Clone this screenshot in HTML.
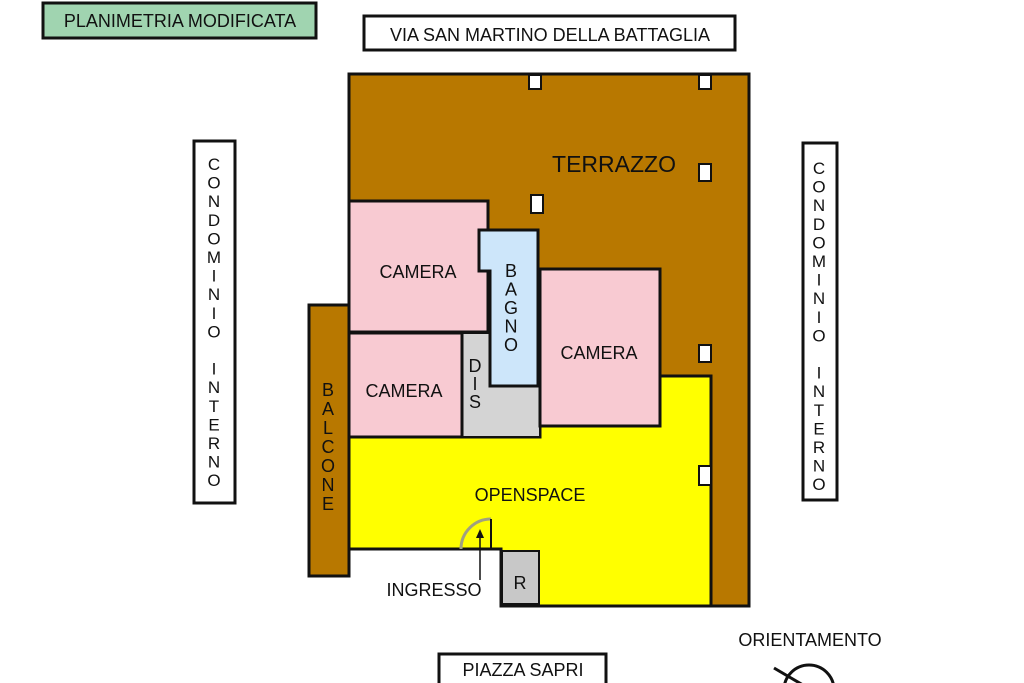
<!DOCTYPE html>
<html><head><meta charset="utf-8"><style>
html,body{margin:0;padding:0;background:#fff;}
svg{display:block;font-family:"Liberation Sans",Arial,sans-serif;}
</style></head><body>
<svg width="1024" height="683" viewBox="0 0 1024 683" xmlns="http://www.w3.org/2000/svg">
<rect width="1024" height="683" fill="#fff"/>
<rect x="43" y="3" width="273" height="35" fill="#a0d4b0" stroke="#111" stroke-width="3"/>
<text x="180" y="27" font-size="18" text-anchor="middle" fill="#111">PLANIMETRIA MODIFICATA</text>
<rect x="364" y="16" width="371" height="34" fill="#fff" stroke="#111" stroke-width="3"/>
<text x="550" y="41" font-size="18" text-anchor="middle" fill="#111">VIA SAN MARTINO DELLA BATTAGLIA</text>
<rect x="194" y="141" width="41" height="362" fill="#fff" stroke="#111" stroke-width="3"/>
<g font-size="17" text-anchor="middle" fill="#111">
<text x="214" y="170">C</text><text x="214" y="188.6">O</text><text x="214" y="207.2">N</text><text x="214" y="225.8">D</text><text x="214" y="244.4">O</text><text x="214" y="263">M</text><text x="214" y="281.6">I</text><text x="214" y="300.2">N</text><text x="214" y="318.8">I</text><text x="214" y="337.4">O</text><text x="214" y="374.6">I</text><text x="214" y="393.2">N</text><text x="214" y="411.8">T</text><text x="214" y="430.4">E</text><text x="214" y="449">R</text><text x="214" y="467.6">N</text><text x="214" y="486.2">O</text>
</g>
<rect x="803" y="143" width="34" height="357" fill="#fff" stroke="#111" stroke-width="3"/>
<g font-size="17" text-anchor="middle" fill="#111">
<text x="819" y="174">C</text><text x="819" y="192.6">O</text><text x="819" y="211.2">N</text><text x="819" y="229.8">D</text><text x="819" y="248.4">O</text><text x="819" y="267">M</text><text x="819" y="285.6">I</text><text x="819" y="304.2">N</text><text x="819" y="322.8">I</text><text x="819" y="341.4">O</text><text x="819" y="378.6">I</text><text x="819" y="397.2">N</text><text x="819" y="415.8">T</text><text x="819" y="434.4">E</text><text x="819" y="453">R</text><text x="819" y="471.6">N</text><text x="819" y="490.2">O</text>
</g>
<rect x="349" y="74" width="400" height="532" fill="#b87800" stroke="#111" stroke-width="3"/>
<rect x="346" y="550" width="155" height="60" fill="#fff"/>
<line x1="349" y1="549" x2="501" y2="549" stroke="#111" stroke-width="3"/>
<rect x="309" y="305" width="40" height="271" fill="#b87800" stroke="#111" stroke-width="3"/>
<path d="M349 437 L540 437 L540 426 L660 426 L660 376 L711 376 L711 606 L501 606 L501 549 L349 549 Z" fill="#ffff00" stroke="#111" stroke-width="3"/>
<rect x="502" y="551" width="37" height="53" fill="#c8c8c8" stroke="#111" stroke-width="2"/>
<text x="520" y="589" font-size="18" text-anchor="middle" fill="#111">R</text>
<rect x="349" y="201" width="139" height="131" fill="#f8cad2" stroke="#111" stroke-width="3"/>
<path d="M462 333 L490 333 L490 386 L540 386 L540 437 L462 437 Z" fill="#d4d4d4" stroke="#111" stroke-width="2"/>
<rect x="349" y="333" width="113" height="104" fill="#f8cad2" stroke="#111" stroke-width="3"/>
<path d="M479 230 L538 230 L538 386 L490 386 L490 271 L479 271 Z" fill="#cde6fa" stroke="#111" stroke-width="3"/>
<rect x="540" y="269" width="120" height="157" fill="#f8cad2" stroke="#111" stroke-width="3"/>
<g fill="#fff" stroke="#111" stroke-width="2">
<rect x="529" y="75" width="12" height="14"/>
<rect x="699" y="75" width="12" height="14"/>
<rect x="699" y="164" width="12" height="17"/>
<rect x="531" y="195" width="12" height="18"/>
<rect x="699" y="345" width="12" height="17"/>
<rect x="699" y="466" width="12" height="19"/>
</g>
<path d="M461 549 A30 30 0 0 1 491 519" fill="none" stroke="#a0a080" stroke-width="3"/>
<line x1="491" y1="519" x2="491" y2="549" stroke="#111" stroke-width="2"/>
<line x1="480" y1="580" x2="480" y2="536" stroke="#111" stroke-width="1.5"/>
<path d="M476 538 L480 529 L484 538 Z" fill="#111"/>
<g font-size="18" fill="#111" text-anchor="middle">
<text x="614" y="172" font-size="23">TERRAZZO</text>
<text x="418" y="278">CAMERA</text>
<text x="404" y="397">CAMERA</text>
<text x="599" y="359">CAMERA</text>
<text x="530" y="501">OPENSPACE</text>
<text x="434" y="596">INGRESSO</text>
<text x="511" y="277">B</text><text x="511" y="295.5">A</text><text x="511" y="314">G</text><text x="511" y="332.5">N</text><text x="511" y="351">O</text>
<text x="475" y="372">D</text><text x="475" y="390">I</text><text x="475" y="408">S</text>
<text x="328" y="396">B</text><text x="328" y="415">A</text><text x="328" y="434">L</text><text x="328" y="453">C</text><text x="328" y="472">O</text><text x="328" y="491">N</text><text x="328" y="510">E</text>
</g>
<rect x="439" y="654" width="167" height="40" fill="#fff" stroke="#111" stroke-width="3"/>
<text x="523" y="676" font-size="18" text-anchor="middle" fill="#111">PIAZZA SAPRI</text>
<text x="810" y="646" font-size="18" text-anchor="middle" fill="#111">ORIENTAMENTO</text>
<circle cx="809" cy="690" r="25" fill="none" stroke="#111" stroke-width="3"/>
<line x1="774" y1="668" x2="820" y2="695" stroke="#111" stroke-width="3"/>
</svg>
</body></html>
